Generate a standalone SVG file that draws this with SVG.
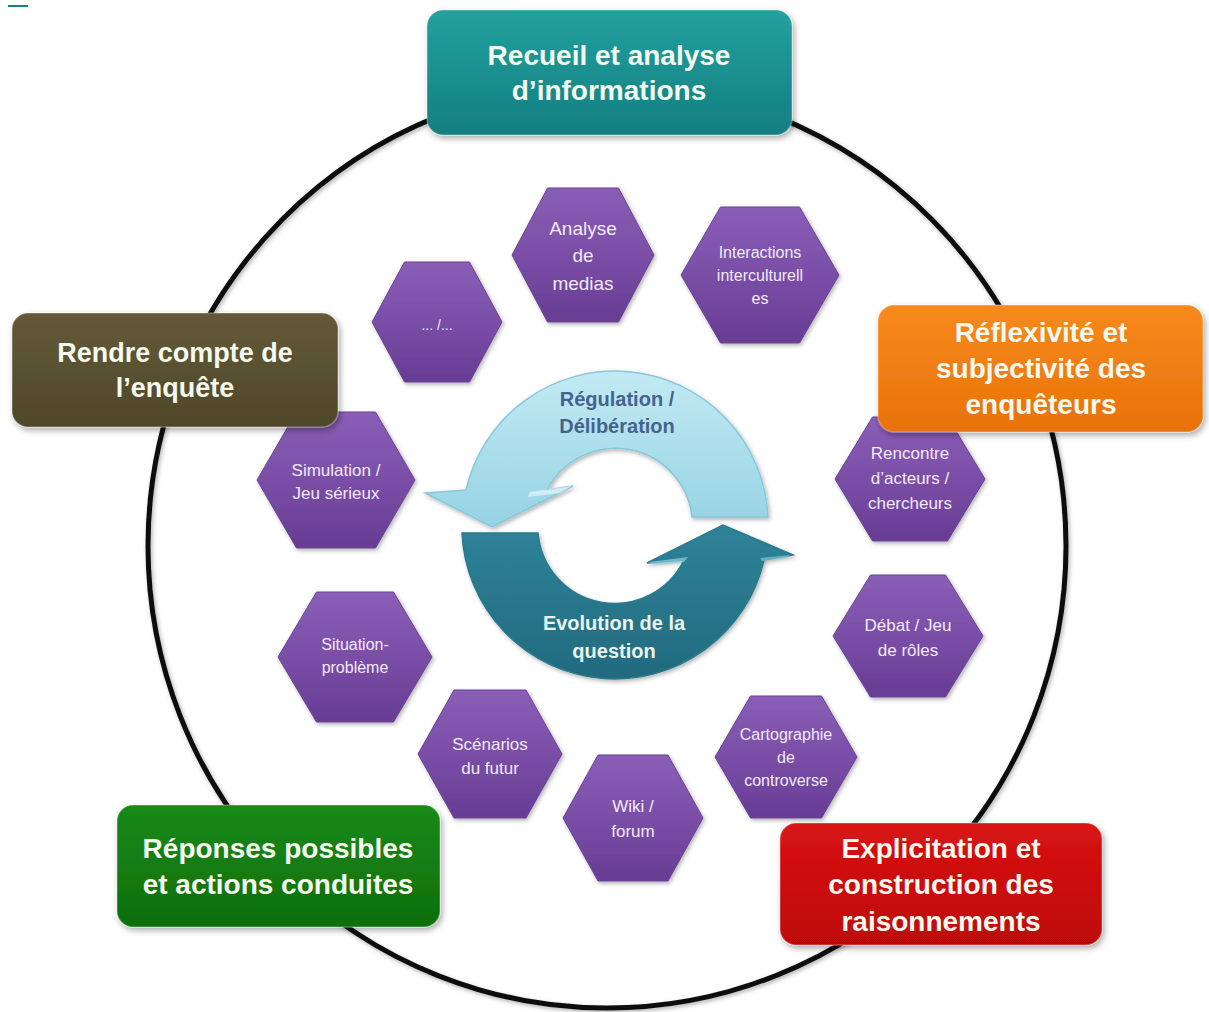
<svg xmlns="http://www.w3.org/2000/svg" width="1209" height="1012" viewBox="0 0 1209 1012">
<defs>
<filter id="sh" x="-10%" y="-10%" width="125%" height="130%"><feDropShadow dx="2" dy="3" stdDeviation="3" flood-color="#000" flood-opacity="0.35"/></filter>
<filter id="shs" x="-10%" y="-10%" width="125%" height="130%"><feDropShadow dx="1.5" dy="2" stdDeviation="2" flood-color="#000" flood-opacity="0.3"/></filter>
<linearGradient id="gTeal" x1="0" y1="0" x2="0" y2="1"><stop offset="0" stop-color="#23a0a0"/><stop offset="1" stop-color="#137f80"/></linearGradient>
<linearGradient id="gBrown" x1="0" y1="0" x2="0" y2="1"><stop offset="0" stop-color="#635a38"/><stop offset="1" stop-color="#4e4729"/></linearGradient>
<linearGradient id="gOrange" x1="0" y1="0" x2="0" y2="1"><stop offset="0" stop-color="#f78a1c"/><stop offset="1" stop-color="#e9720a"/></linearGradient>
<linearGradient id="gGreen" x1="0" y1="0" x2="0" y2="1"><stop offset="0" stop-color="#1a8a18"/><stop offset="1" stop-color="#0e6e0c"/></linearGradient>
<linearGradient id="gRed" x1="0" y1="0" x2="0" y2="1"><stop offset="0" stop-color="#d81414"/><stop offset="1" stop-color="#be0606"/></linearGradient>
<linearGradient id="gHex" x1="0" y1="0" x2="0" y2="1"><stop offset="0" stop-color="#8a5eb6"/><stop offset="0.5" stop-color="#7a4ea6"/><stop offset="1" stop-color="#673c93"/></linearGradient>
<linearGradient id="gLight" x1="0" y1="0" x2="0" y2="1"><stop offset="0" stop-color="#c2eaf3"/><stop offset="1" stop-color="#96d3e4"/></linearGradient>
<linearGradient id="gDark" x1="0" y1="0" x2="0" y2="1"><stop offset="0" stop-color="#2f8398"/><stop offset="1" stop-color="#226a7f"/></linearGradient>
</defs>
<style>
.box{stroke:rgba(255,255,255,0.25);stroke-width:1.5;filter:url(#sh)}
.bt{font-family:"Liberation Sans",Arial,sans-serif;font-weight:bold;font-size:28px;fill:#f5f9ee;text-anchor:middle}
.hex{fill:url(#gHex);stroke:#6a4296;stroke-width:1;filter:url(#shs)}
.ht{font-family:"Liberation Sans",Arial,sans-serif;font-size:17px;fill:#f2eaf9;text-anchor:middle}
.at{font-family:"Liberation Sans",Arial,sans-serif;font-weight:bold;font-size:20px;text-anchor:middle}
</style>
<rect x="8" y="5" width="20" height="2" fill="#1a8080"/>
<g id="connectors">
<ellipse cx="607" cy="546" rx="459" ry="462" fill="none" stroke="#111" stroke-width="5" filter="url(#shs)"/>
</g>
<g id="hex-dots"><polygon class="hex" points="372,322 404.5,262 469.5,262 502,322 469.5,382 404.5,382"/><text class="ht" x="437" y="330" style="font-size:14px">... /...</text></g>
<g id="hex-analyse"><polygon class="hex" points="512,255 547.5,188 618.5,188 654,255 618.5,322 547.5,322"/><text class="ht" style="font-size:19px" x="583" y="235">Analyse</text><text class="ht" style="font-size:19px" x="583" y="262">de</text><text class="ht" style="font-size:19px" x="583" y="290">medias</text></g>
<g id="hex-interactions"><polygon class="hex" points="681,275 720.5,207 799.5,207 839,275 799.5,343 720.5,343"/><text class="ht" style="font-size:16px" x="760" y="258">Interactions</text><text class="ht" style="font-size:16px" x="760" y="281">interculturell</text><text class="ht" style="font-size:16px" x="760" y="304">es</text></g>
<g id="hex-simulation"><polygon class="hex" points="257,480 296.5,412 375.5,412 415,480 375.5,548 296.5,548"/><text class="ht" x="336" y="476">Simulation /</text><text class="ht" x="336" y="499">Jeu sérieux</text></g>
<g id="hex-situation"><polygon class="hex" points="278,657 316.5,592 393.5,592 432,657 393.5,722 316.5,722"/><text class="ht" style="font-size:16px" x="355" y="650">Situation-</text><text class="ht" style="font-size:16px" x="355" y="673">problème</text></g>
<g id="hex-rencontre"><polygon class="hex" points="835,479 872.5,417 947.5,417 985,479 947.5,541 872.5,541"/><text class="ht" x="910" y="459">Rencontre</text><text class="ht" x="910" y="484">d’acteurs /</text><text class="ht" x="910" y="509">chercheurs</text></g>
<g id="hex-debat"><polygon class="hex" points="833,636 870.5,575 945.5,575 983,636 945.5,697 870.5,697"/><text class="ht" x="908" y="631">Débat / Jeu</text><text class="ht" x="908" y="656">de rôles</text></g>
<g id="hex-cartographie"><polygon class="hex" points="715,757 750.5,696 821.5,696 857,757 821.5,818 750.5,818"/><text class="ht" style="font-size:16px" x="786" y="740">Cartographie</text><text class="ht" style="font-size:16px" x="786" y="763">de</text><text class="ht" style="font-size:16px" x="786" y="786">controverse</text></g>
<g id="hex-wiki"><polygon class="hex" points="563,818 598,755 668,755 703,818 668,881 598,881"/><text class="ht" x="633" y="812">Wiki /</text><text class="ht" x="633" y="837">forum</text></g>
<g id="hex-scenarios"><polygon class="hex" points="418,754 454,690 526,690 562,754 526,818 454,818"/><text class="ht" x="490" y="750">Scénarios</text><text class="ht" x="490" y="774">du futur</text></g>
<g id="arrow-regulation">
<path d="M768,517 A153,153 0 0 0 466,490 L425,493 L492,527 L573,486 L547,490 A77,77 0 0 1 692,517 Z" fill="url(#gLight)" stroke="#86c8dc" stroke-width="1.5" filter="url(#shs)"/>
<path d="M530,492 L572,486 L560,493 L528,497 Z" fill="#e6f7fb" opacity="0.7"/>
<text class="at" x="617" y="406" fill="#46628e">Régulation /</text>
<text class="at" x="617" y="433" fill="#46628e">Délibération</text>
</g>
<g id="arrow-evolution">
<path d="M462,533 A153,153 0 0 0 764,560 L793,555 L723,525 L647,563 L684,560 A77,77 0 0 1 538,533 Z" fill="url(#gDark)" stroke="#2a7a8e" stroke-width="1.5" filter="url(#shs)"/>
<path d="M649,562 L688,557 L684,562 L655,565 Z" fill="#8ccfe0" opacity="0.7"/>
<path d="M760,558 L790,555 L784,559 L762,561 Z" fill="#8ccfe0" opacity="0.6"/>
<text class="at" x="614" y="630" fill="#eaf4ee">Evolution de la</text>
<text class="at" x="614" y="658" fill="#eaf4ee">question</text>
</g>
<g id="box-recueil"><rect class="box" x="427" y="10" width="365" height="125" rx="16" fill="url(#gTeal)"/><text class="bt" x="609" y="65">Recueil et analyse</text><text class="bt" x="609" y="100">d’informations</text></g>
<g id="box-rendre"><rect class="box" x="12" y="313" width="326" height="114" rx="16" fill="url(#gBrown)"/><text class="bt" style="font-size:27px" x="175" y="362">Rendre compte de</text><text class="bt" style="font-size:27px" x="175" y="397">l’enquête</text></g>
<g id="box-reflexivite"><rect class="box" x="878" y="305" width="325" height="127" rx="16" fill="url(#gOrange)"/><text class="bt" x="1041" y="342">Réflexivité et</text><text class="bt" x="1041" y="378">subjectivité des</text><text class="bt" x="1041" y="414">enquêteurs</text></g>
<g id="box-reponses"><rect class="box" x="117" y="805" width="323" height="122" rx="16" fill="url(#gGreen)"/><text class="bt" x="278" y="858">Réponses possibles</text><text class="bt" x="278" y="894">et actions conduites</text></g>
<g id="box-explicitation"><rect class="box" x="780" y="823" width="322" height="122" rx="16" fill="url(#gRed)"/><text class="bt" x="941" y="858">Explicitation et</text><text class="bt" x="941" y="894">construction des</text><text class="bt" x="941" y="931">raisonnements</text></g>
</svg>
